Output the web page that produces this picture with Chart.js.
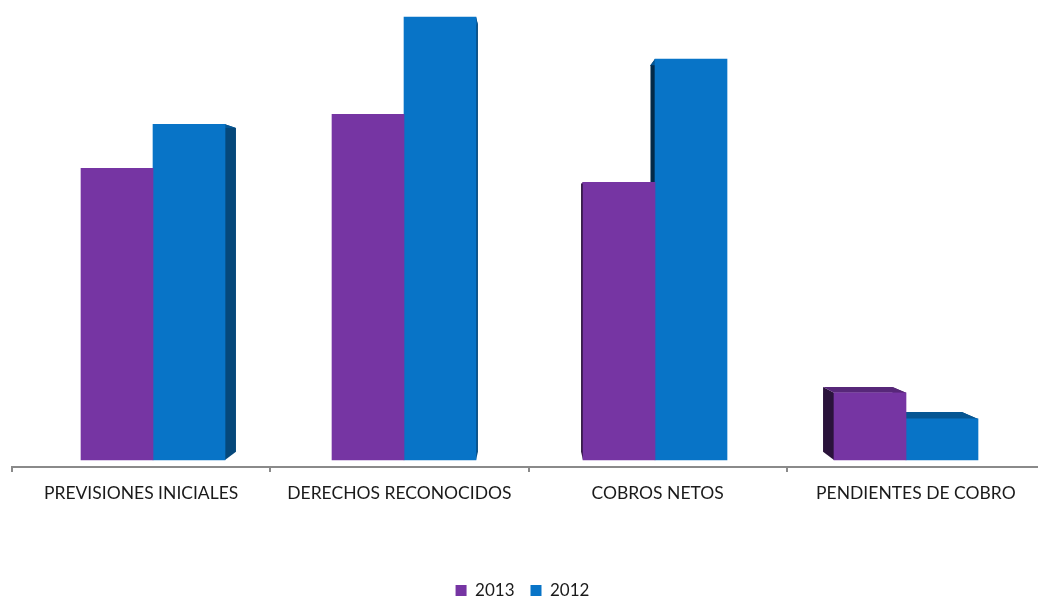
<!DOCTYPE html>
<html>
<head>
<meta charset="utf-8">
<script src="https://cdn.jsdelivr.net/npm/chart.js@4.4.1/dist/chart.umd.min.js"></script>
<style>
html,body{margin:0;padding:0;background:#fff;overflow:hidden;}
#wrap{width:1045px;height:596px;position:relative;}
</style>
</head>
<body>
<div id="wrap"><canvas id="c" width="1045" height="596"></canvas></div>
<script>
// ---- data ----
const categories = ["PREVISIONES INICIALES", "DERECHOS RECONOCIDOS", "COBROS NETOS", "PENDIENTES DE COBRO"];
const seriesNames = ["2013", "2012"];
const values2013 = [291, 345, 277, 67];
const values2012 = [335, 442, 400, 41];

// ---- styles ----
const purple = "#7635a3";
const blue = "#0874c7";

function shade(hex, f) {
  const n = parseInt(hex.slice(1), 16);
  const r = Math.round(((n >> 16) & 255) * f), g = Math.round(((n >> 8) & 255) * f), b = Math.round((n & 255) * f);
  return "rgb(" + r + "," + g + "," + b + ")";
}

const extrude = {
  id: "extrude",
  beforeDatasetsDraw(chart) {
    const ctx = chart.ctx, ca = chart.chartArea;
    const k = 0.036;
    const vx = 529.5, vy = ca.top + 0.4756 * (ca.bottom - ca.top);
    const back = (x, y) => [x + k * (vx - x), y + k * (vy - y)];
    const poly = (pts, col) => {
      ctx.beginPath();
      ctx.moveTo(pts[0][0], pts[0][1]);
      for (let i = 1; i < pts.length; i++) ctx.lineTo(pts[i][0], pts[i][1]);
      ctx.closePath();
      ctx.fillStyle = col;
      ctx.fill();
    };
    ctx.save();
    chart.data.datasets.forEach((ds, di) => {
      const meta = chart.getDatasetMeta(di);
      if (meta.hidden) return;
      const col = ds.backgroundColor;
      meta.data.forEach(el => {
        const p = el.getProps(["x", "y", "base", "width"], true);
        const l = p.x - p.width / 2, r = p.x + p.width / 2;
        const t = Math.min(p.y, p.base), b = Math.max(p.y, p.base);
        poly([[l, t], [l, b], back(l, b), back(l, t)], shade(col, 0.36));
        poly([[r, t], [r, b], back(r, b), back(r, t)], shade(col, 0.62));
        poly([[l, t], [r, t], back(r, t), back(l, t)], shade(col, 0.74));
      });
    });
    ctx.restore();
  }
};

const toPoints = arr => arr.map((v, i) => ({ x: i, y: v }));

new Chart(document.getElementById("c"), {
  type: "bar",
  data: {
    labels: categories,
    datasets: [
      { label: seriesNames[0], data: toPoints(values2013), backgroundColor: purple, xAxisID: "xb" },
      { label: seriesNames[1], data: toPoints(values2012), backgroundColor: blue, xAxisID: "xb" }
    ]
  },
  plugins: [extrude],
  options: {
    responsive: false,
    animation: false,
    events: [],
    layout: { padding: { left: 0, right: 0, top: 16, bottom: -13 } },
    datasets: { bar: { barThickness: 72, borderWidth: 0 } },
    scales: {
      x: {
        type: "category",
        position: "bottom",
        offset: true,
        grid: { display: true, offset: true, drawOnChartArea: false, drawTicks: true, tickLength: 5, color: "#8a8a8a", lineWidth: 2 },
        border: { display: true, color: "#8a8a8a", width: 2 },
        ticks: { color: "#1a1a1a", font: { family: "Lato", size: 17.5 }, padding: 11, maxRotation: 0, autoSkip: false },
        afterFit(s) { s.height = 99; }
      },
      xb: {
        type: "linear",
        display: false,
        offset: false,
        grid: { offset: false },
        min: -0.5618,
        max: 3.5538
      },
      y: {
        display: true,
        min: -7,
        max: 443,
        grid: { display: false },
        border: { display: false },
        ticks: { display: false },
        afterFit(s) { s.width = 12; }
      }
    },
    plugins: {
      legend: {
        position: "bottom",
        labels: { boxWidth: 11, boxHeight: 11, padding: 16, color: "#1a1a1a", font: { family: "Lato", size: 17 } }
      },
      tooltip: { enabled: false }
    }
  }
});
</script>
</body>
</html>
